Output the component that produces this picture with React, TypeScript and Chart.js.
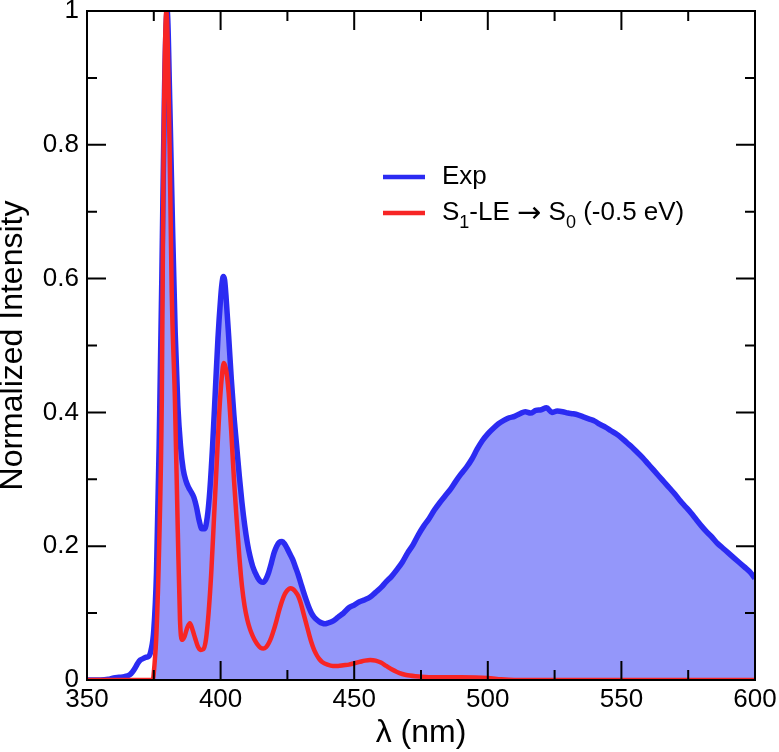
import React, { useEffect, useRef } from "react";
import { Chart, registerables } from "chart.js";

Chart.register(...registerables);

// Experimental emission spectrum (blue)
const expX = [
  350, 355, 358, 360, 362, 364, 366, 367, 368, 369, 370, 371, 372, 373, 374, 375,
  376, 377, 378, 379, 380, 381, 382, 383, 384, 385, 386, 387, 388, 389, 390,
  391, 392, 393, 394, 395, 396, 397, 398, 399, 400, 400.5, 401, 401.5, 402, 403, 404, 405,
  406, 407, 408, 409, 410, 411, 412, 413, 414, 415, 416, 417, 418, 419, 420,
  421, 422, 423, 424, 425, 426, 427, 428, 429, 430, 431, 432, 433, 434, 435,
  436, 437, 438, 439, 440, 442, 444, 446, 448, 450, 452, 454, 456, 458, 460,
  462, 464, 466, 468, 470, 472, 474, 476, 478, 480, 482, 484, 486, 488, 490,
  492, 494, 496, 498, 500, 502, 504, 506, 508, 510, 512, 514, 516, 518, 520,
  522, 524, 526, 528, 530, 532, 534, 536, 538, 540, 542, 544, 546, 548, 550,
  552, 554, 556, 558, 560, 562, 564, 566, 568, 570, 572, 574, 576, 578, 580,
  582, 584, 586, 588, 590, 592, 594, 596, 598, 600,
];
const expY = [
  0, 0, 0.001, 0.003, 0.004, 0.005, 0.008, 0.012, 0.018, 0.025, 0.03, 0.032, 0.034, 0.035, 0.045, 0.075,
  0.16, 0.35, 0.6, 0.88, 1.0, 0.86, 0.68, 0.52, 0.41, 0.35, 0.315, 0.298, 0.288, 0.281, 0.273,
  0.258, 0.238, 0.226, 0.226, 0.243, 0.285, 0.35, 0.43, 0.51, 0.57, 0.592, 0.603, 0.598, 0.575, 0.515, 0.45, 0.395,
  0.35, 0.305, 0.265, 0.232, 0.205, 0.185, 0.17, 0.16, 0.152, 0.147, 0.146, 0.151, 0.161, 0.175, 0.19,
  0.2, 0.206, 0.207, 0.203, 0.196, 0.188, 0.18, 0.169, 0.158, 0.145, 0.132, 0.12, 0.109, 0.1, 0.094,
  0.09, 0.087, 0.085, 0.084, 0.085, 0.088, 0.094, 0.1, 0.108, 0.112, 0.117, 0.12, 0.124, 0.131, 0.138,
  0.147, 0.155, 0.165, 0.176, 0.19, 0.202, 0.217, 0.23, 0.241, 0.254, 0.265, 0.275, 0.285, 0.297, 0.308,
  0.318, 0.33, 0.345, 0.358, 0.368, 0.376, 0.383, 0.388, 0.392, 0.394, 0.398, 0.401, 0.399, 0.403, 0.404,
  0.407, 0.4, 0.402, 0.401, 0.399, 0.398, 0.396, 0.393, 0.39, 0.387, 0.382, 0.378, 0.373, 0.368, 0.362,
  0.355, 0.348, 0.34, 0.332, 0.323, 0.314, 0.305, 0.296, 0.287, 0.278, 0.268, 0.259, 0.25, 0.24, 0.23,
  0.221, 0.213, 0.204, 0.197, 0.19, 0.183, 0.176, 0.169, 0.162, 0.152,
];

// Simulated S1-LE -> S0 spectrum (red)
const simX = [
  350, 374.6, 375.2, 376, 377, 378, 378.7, 379.7, 380.9, 381.7, 382.9, 384, 384.8, 385.5,
  386.5, 387.5, 388.5, 389.5, 390.5, 391.5, 392.5, 393.5, 394.5, 395.5, 396.5, 397.5,
  398.5, 399.5, 400.5, 401.2, 402, 403, 404, 405, 406, 407, 408, 409, 410, 411, 412,
  413, 414, 415, 416, 417, 418, 419, 420, 421, 422, 423, 424, 425, 426, 427, 428, 429,
  430, 431, 432, 433, 434, 435, 436, 437, 438, 440, 442, 444, 446, 448, 450, 452, 454,
  456, 458, 460, 462, 464, 466, 468, 470, 475, 480, 490, 500, 505, 510, 600,
];
const simY = [
  0, 0, 0.02, 0.07, 0.2, 0.42, 0.8, 1.0, 0.8, 0.58, 0.42, 0.22, 0.09, 0.06,
  0.065, 0.078, 0.085, 0.075, 0.062, 0.05, 0.045, 0.046, 0.06, 0.1, 0.16, 0.24,
  0.32, 0.4, 0.455, 0.474, 0.465, 0.43, 0.37, 0.3, 0.24, 0.185, 0.14, 0.11, 0.09, 0.076, 0.066,
  0.058, 0.052, 0.048, 0.047, 0.049, 0.055, 0.064, 0.076, 0.09, 0.105, 0.118, 0.128, 0.134, 0.137, 0.136, 0.132, 0.126,
  0.115, 0.1, 0.085, 0.07, 0.056, 0.045, 0.037, 0.031, 0.027, 0.023, 0.021, 0.021, 0.022, 0.023, 0.025, 0.027, 0.029,
  0.03, 0.029, 0.026, 0.021, 0.016, 0.012, 0.009, 0.007, 0.005, 0.004, 0.004, 0.003, 0.001, 0, 0,
];

const fillStartX = 375;

const xTicks = [350, 400, 450, 500, 550, 600];
const xMinorTicks = [375, 425, 475, 525, 575];
const yTicks = [0, 0.2, 0.4, 0.6, 0.8, 1];
const yMinorTicks = [0.1, 0.3, 0.5, 0.7, 0.9];
const yTickLabels = ["0", "0.2", "0.4", "0.6", "0.8", "1"];

const xTitle = "λ (nm)";
const yTitle = "Normalized Intensity";
const seriesNames = ["Exp", "S1-LE → S0 (-0.5 eV)"];
// legend rich-text segments (subscripts, arrow glyph)
const legendSegments = [
  [{ t: "Exp", kind: "n" }],
  [
    { t: "S", kind: "n" },
    { t: "1", kind: "sub" },
    { t: "-LE ", kind: "n" },
    { t: "→", kind: "arrow" },
    { t: " S", kind: "n" },
    { t: "0", kind: "sub" },
    { t: " (-0.5 eV)", kind: "n" },
  ],
];

const BLUE = "#2b2bf2";
const RED = "#f72525";
const FILL = "#9497fa";
const FONT = "'Liberation Sans', Arial, Helvetica, sans-serif";

const framePlugin = {
  id: "frameTicks",
  afterDatasetsDraw(chart: any) {
    const { ctx, chartArea: a, scales } = chart;
    const xs = scales.x;
    const ys = scales.y;
    ctx.save();
    ctx.strokeStyle = "#000";
    ctx.lineWidth = 2;
    ctx.lineCap = "butt";
    ctx.beginPath();
    const major = 19;
    const minor = 10;
    xTicks.forEach((v) => {
      const p = xs.getPixelForValue(v);
      ctx.moveTo(p, a.bottom);
      ctx.lineTo(p, a.bottom - major);
      ctx.moveTo(p, a.top);
      ctx.lineTo(p, a.top + major);
    });
    xMinorTicks.forEach((v) => {
      const p = xs.getPixelForValue(v);
      ctx.moveTo(p, a.bottom);
      ctx.lineTo(p, a.bottom - minor);
      ctx.moveTo(p, a.top);
      ctx.lineTo(p, a.top + minor);
    });
    yTicks.forEach((v) => {
      const p = ys.getPixelForValue(v);
      ctx.moveTo(a.left, p);
      ctx.lineTo(a.left + major, p);
      ctx.moveTo(a.right, p);
      ctx.lineTo(a.right - major, p);
    });
    yMinorTicks.forEach((v) => {
      const p = ys.getPixelForValue(v);
      ctx.moveTo(a.left, p);
      ctx.lineTo(a.left + minor, p);
      ctx.moveTo(a.right, p);
      ctx.lineTo(a.right - minor, p);
    });
    ctx.stroke();
    ctx.strokeRect(a.left, a.top, a.right - a.left, a.bottom - a.top);
    ctx.restore();
  },
  afterDraw(chart: any) {
    const { ctx } = chart;
    ctx.save();
    const colors = [BLUE, RED];
    const rowsY = [177, 213];
    const lineX0 = 383;
    const lineX1 = 425;
    const textX = 442;
    legendSegments.forEach((segs, i) => {
      const y = rowsY[i];
      ctx.strokeStyle = colors[i];
      ctx.lineWidth = 4.5;
      ctx.beginPath();
      ctx.moveTo(lineX0, y);
      ctx.lineTo(lineX1, y);
      ctx.stroke();
      let x = textX;
      ctx.fillStyle = "#000";
      ctx.textBaseline = "middle";
      ctx.textAlign = "left";
      segs.forEach((s) => {
        let yy = y;
        if (s.kind === "sub") {
          ctx.font = `18px ${FONT}`;
          yy = y + 10;
        } else if (s.kind === "arrow") {
          ctx.font = `29px 'DejaVu Sans', sans-serif`;
          yy = y + 1;
        } else {
          ctx.font = `26px ${FONT}`;
        }
        ctx.fillText(s.t, x, yy);
        x += ctx.measureText(s.t).width;
      });
    });
    ctx.restore();
  },
};

export default function App() {
  const canvasRef = useRef<HTMLCanvasElement | null>(null);

  useEffect(() => {
    if (!canvasRef.current) return;
    const expData = expX.map((x, i) => ({ x, y: expY[i] }));
    const simData = simX.map((x, i) => ({ x, y: simY[i] }));
    const fillData = expData.filter((p) => p.x >= fillStartX);

    const chart = new Chart(canvasRef.current, {
      type: "line",
      data: {
        datasets: [
          {
            label: seriesNames[1],
            data: simData,
            borderColor: RED,
            borderWidth: 4.5,
            pointRadius: 0,
            fill: false,
            cubicInterpolationMode: "monotone",
            order: 0,
          },
          {
            label: seriesNames[0],
            data: expData,
            borderColor: BLUE,
            borderWidth: 5.5,
            pointRadius: 0,
            fill: false,
            cubicInterpolationMode: "monotone",
            order: 1,
          },
          {
            label: "fill",
            data: fillData,
            borderWidth: 0,
            borderColor: "rgba(0,0,0,0)",
            backgroundColor: FILL,
            pointRadius: 0,
            fill: "origin",
            cubicInterpolationMode: "monotone",
            order: 2,
          },
        ],
      },
      options: {
        animation: false,
        responsive: true,
        maintainAspectRatio: false,
        layout: { padding: { left: 0, right: 24, top: 11, bottom: 0 } },
        plugins: {
          legend: { display: false },
          tooltip: { enabled: false },
        },
        scales: {
          x: {
            type: "linear",
            min: 350,
            max: 600,
            grid: { display: false, drawTicks: false },
            border: { display: false },
            afterBuildTicks: (s: any) => {
              s.ticks = xTicks.map((v) => ({ value: v }));
            },
            afterFit: (s: any) => {
              s.height = 72;
              s.paddingLeft = 0;
              s.paddingRight = 0;
            },
            ticks: {
              padding: 4,
              maxRotation: 0,
              autoSkip: false,
              color: "#000",
              font: { family: FONT, size: 26 },
            },
            title: {
              display: true,
              text: xTitle,
              color: "#000",
              font: { family: FONT, size: 32 },
              padding: 0,
            },
          },
          y: {
            type: "linear",
            min: 0,
            max: 1,
            grid: { display: false, drawTicks: false },
            border: { display: false },
            afterBuildTicks: (s: any) => {
              s.ticks = yTicks.map((v) => ({ value: v }));
            },
            afterFit: (s: any) => {
              s.width = 87;
              s.paddingTop = 0;
              s.paddingBottom = 0;
            },
            ticks: {
              padding: 8,
              autoSkip: false,
              color: "#000",
              font: { family: FONT, size: 26 },
              callback: (_v: any, i: number) => yTickLabels[i],
            },
            title: {
              display: true,
              text: yTitle,
              color: "#000",
              font: { family: FONT, size: 32, lineHeight: 0.8 },
              padding: 0,
            },
          },
        },
      },
      plugins: [framePlugin],
    });
    return () => chart.destroy();
  }, []);

  return (
    <div style={{ position: "absolute", left: 0, top: 0, width: 779, height: 752, background: "#fff" }}>
      <canvas ref={canvasRef} />
    </div>
  );
}
